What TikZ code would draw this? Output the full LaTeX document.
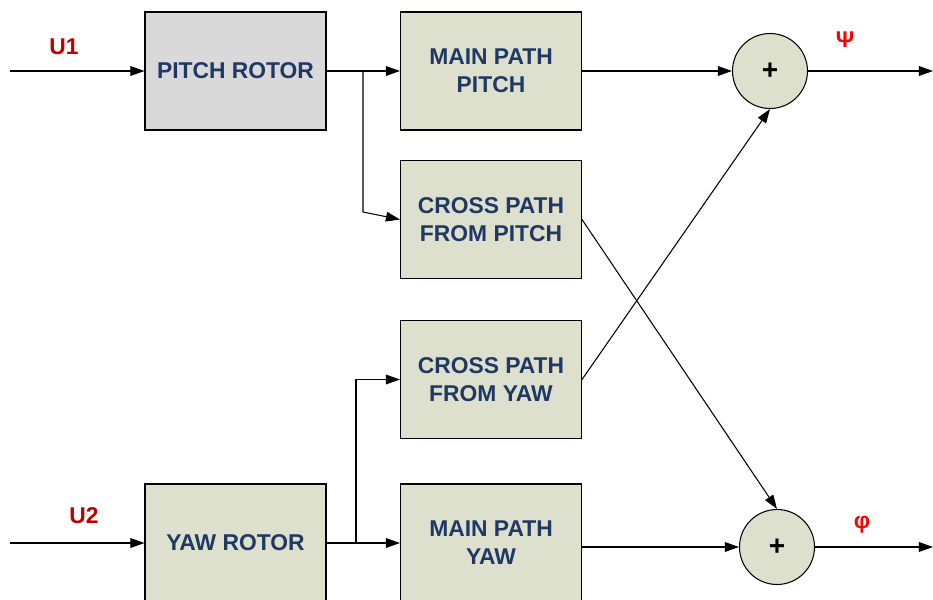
\documentclass[tikz,border=0pt]{standalone}
\usepackage{fontspec}
\setmainfont{Liberation Sans}
\usetikzlibrary{arrows.meta}
\definecolor{blockfill}{HTML}{DDE0CD}
\definecolor{rotorfill}{HTML}{D9D9D9}
\definecolor{blocktext}{HTML}{1F3864}
\definecolor{inred}{HTML}{C00000}
\definecolor{outred}{HTML}{FF0000}
\begin{document}
\begin{tikzpicture}[x=0.02cm, y=-0.02cm, line width=0.6pt,
        signal/.style={-{Triangle[length=8pt,width=5.5pt]}},
        block/.style={draw, fill=blockfill, minimum width=3.62cm, minimum height=2.36cm,
            align=center, text=blocktext, font=\fontsize{13}{16}\selectfont\bfseries},
        sum/.style={circle, draw, fill=blockfill, minimum size=1.5cm, inner sep=0pt,
            font=\fontsize{16}{16}\selectfont\bfseries},
        sig/.style={font=\fontsize{13}{13}\selectfont\bfseries}]
    \useasboundingbox (0,0) rectangle (933,599);

    \node [block, fill=rotorfill] (pr) at (235.5,71) {PITCH ROTOR};
    \node [block] (mpp) at (491,71) {MAIN PATH\\PITCH};
    \node [block] (cpp) at (491,219.5) {CROSS PATH\\FROM PITCH};
    \node [block] (cpy) at (491,379.5) {CROSS PATH\\FROM YAW};
    \node [block] (yr) at (235.5,543) {YAW ROTOR};
    \node [block] (mpy) at (491,543) {MAIN PATH\\YAW};
    \node [sum] (s1) at (770,71) {+};
    \node [sum] (s2) at (777,547) {+};

    \coordinate (u1) at (10,71);
    \coordinate (u2) at (10,543);
    \coordinate (psi) at (933,71);
    \coordinate (phi) at (933,547);
    \coordinate (bp) at (363,71);
    \coordinate (by) at (356,543);

    \node [sig, text=inred] (u1lab) at (64,47) {U1};
    \node [sig, text=inred] (u2lab) at (84,516) {U2};
    \node [sig, text=outred] (psilab) at (845,40) {Ψ};
    \node [sig, text=outred] (philab) at (862,525) {φ};

    % inputs and branches
    \draw [signal] (u1) -- (pr);
    \draw [signal] (u2) -- (yr);
    \draw [signal] (pr) -- (mpp);
    \draw [signal] (yr) -- (mpy);
    \draw [signal] (bp) -- (363,212) -- (cpp.west);
    \draw [signal] (by) |- (cpy.west);

    % summing junctions
    \draw [signal] (mpp) -- (s1);
    \draw [signal] (cpy.east) -- (s1.south);
    \draw [signal] (cpp.east) -- (s2.north);
    \draw [signal] (mpy.east |- s2.west) -- (s2.west);
    \draw [signal] (s1) -- (psi);
    \draw [signal] (s2) -- (phi);
\end{tikzpicture}
\end{document}
